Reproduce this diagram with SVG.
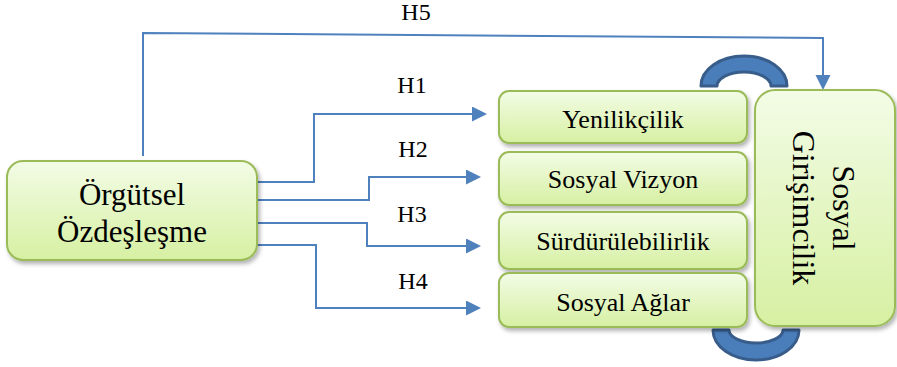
<svg xmlns="http://www.w3.org/2000/svg" width="897" height="367" viewBox="0 0 897 367">
<defs>
<linearGradient id="g" x1="0" y1="0" x2="0" y2="1">
<stop offset="0" stop-color="#f3fce6"/>
<stop offset="1" stop-color="#d6f0a2"/>
</linearGradient>
<filter id="sh" x="-10%" y="-10%" width="130%" height="130%">
<feDropShadow dx="2" dy="3" stdDeviation="2" flood-color="#000" flood-opacity="0.3"/>
</filter>
<marker id="ah" markerUnits="userSpaceOnUse" markerWidth="16" markerHeight="16" refX="13" refY="7.5" orient="auto">
<path d="M0,0 L15,7.5 L0,15 Z" fill="#4f81bd"/>
</marker>
</defs>
<style>
.box{fill:url(#g);stroke:#9bbb59;stroke-width:2;filter:url(#sh)}
.t{fill:#000;text-anchor:middle;font-family:"Liberation Serif","Times New Roman",serif}
.c{fill:none;stroke:#4f81bd;stroke-width:2}
.arc{fill:#4a7ebb;stroke:#385d8a;stroke-width:3;stroke-linejoin:round}
</style>
<g id="connectors">
<polyline class="c" points="143,156 143,33 823,38 823,88" marker-end="url(#ah)"/>
<polyline class="c" points="257,182 314,182 314,114 485,114" marker-end="url(#ah)"/>
<polyline class="c" points="257,200 369,200 369,177 479,177" marker-end="url(#ah)"/>
<polyline class="c" points="257,223 367,223 367,246 479,246" marker-end="url(#ah)"/>
<polyline class="c" points="257,245 316,245 316,308 479,308" marker-end="url(#ah)"/>
<g font-size="24">
<text class="t" x="416" y="20">H5</text>
<text class="t" x="412" y="93">H1</text>
<text class="t" x="413" y="157">H2</text>
<text class="t" x="412" y="222">H3</text>
<text class="t" x="413" y="289">H4</text>
</g>
<path class="arc" d="M701,86 A43,30 0 0 1 787,86 L771,86 A27,14 0 0 0 717,86 Z"/>
<path class="arc" d="M713,330 A43,30 0 0 0 799,330 L783,330 A27,13 0 0 1 729,330 Z"/>
</g>
<g id="orgutsel">
<rect class="box" x="7" y="161" width="250" height="99" rx="16"/>
<text class="t" x="132" y="205" font-size="31">Örgütsel</text>
<text class="t" x="132" y="242" font-size="31">Özdeşleşme</text>
</g>
<g id="yenilikcilik">
<rect class="box" x="499" y="91" width="248" height="52" rx="10"/>
<text class="t" x="623" y="128" font-size="26">Yenilikçilik</text>
</g>
<g id="vizyon">
<rect class="box" x="499" y="152" width="248" height="53" rx="10"/>
<text class="t" x="623" y="188" font-size="26">Sosyal Vizyon</text>
</g>
<g id="surdurulebilirlik">
<rect class="box" x="499" y="212" width="248" height="57" rx="10"/>
<text class="t" x="623" y="250" font-size="26">Sürdürülebilirlik</text>
</g>
<g id="aglar">
<rect class="box" x="499" y="273" width="248" height="54" rx="10"/>
<text class="t" x="623" y="311" font-size="26">Sosyal Ağlar</text>
</g>
<g id="girisimcilik">
<rect class="box" x="755" y="90" width="140" height="236" rx="20"/>
<g transform="translate(833,208) rotate(90)">
<text class="t" x="0" y="0" font-size="32">Sosyal</text>
<text class="t" x="0" y="40" font-size="32">Girişimcilik</text>
</g>
</g>
</svg>
